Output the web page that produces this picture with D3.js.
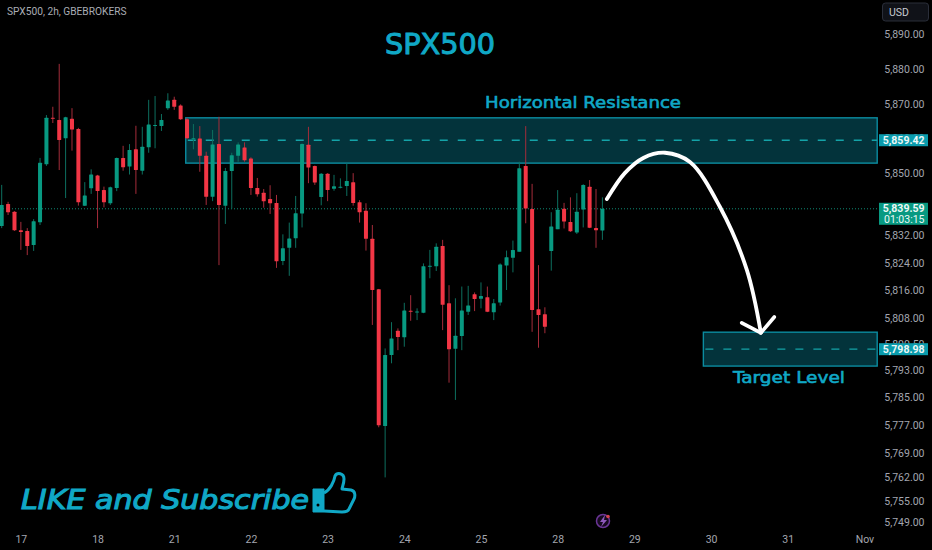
<!DOCTYPE html>
<html>
<head>
<meta charset="utf-8">
<script src="https://cdn.jsdelivr.net/npm/d3@7"></script>
<style>
    html, body { margin: 0; padding: 0; background: #000; }
    svg { display: block; }
    text { font-family: Roboto, sans-serif; }
</style>
</head>
<body>
<svg id="chart" width="932" height="550"></svg>
<script>
const opens = [5834.6,5841.0,5838.7,5833.4,5833.2,5829.1,5835.7,5852.5,5865.9,5865.3,5860.0,5865.6,5862.7,5840.5,5845.5,5849.2,5845.0,5841.2,5845.6,5854.3,5851.8,5856.8,5850.6,5857.4,5863.6,5863.5,5868.7,5871.1,5869.5,5865.5,5859.7,5859.9,5854.9,5843.1,5858.3,5840.5,5850.5,5854.9,5857.3,5854.1,5845.6,5844.2,5842.4,5841.3,5824.5,5828.3,5831.1,5838.2,5858.1,5852.0,5843.0,5849.7,5845.4,5845.7,5846.2,5847.3,5841.5,5839.0,5830.9,5816.3,5776.8,5797.3,5804.3,5802.4,5810.1,5809.6,5809.5,5822.8,5823.0,5828.8,5812.3,5799.1,5802.8,5809.8,5814.9,5813.6,5814.0,5809.7,5812.5,5823.2,5825.4,5827.2,5852.0,5839.5,5810.5,5809.1,5827.4,5833.7,5839.6,5835.8,5832.7,5839.4,5846.0,5834.0,5833.3];
const highs = [5846.5,5841.6,5838.9,5835.8,5834.0,5836.6,5854.3,5866.7,5869.1,5881.5,5866.2,5868.7,5863.0,5847.3,5851.0,5849.4,5846.0,5846.0,5854.4,5857.8,5858.3,5863.6,5863.3,5871.1,5872.2,5867.0,5873.0,5872.0,5869.8,5865.9,5864.1,5863.5,5856.1,5862.4,5866.2,5851.4,5855.8,5858.8,5858.8,5854.5,5848.5,5845.3,5846.4,5843.6,5832.2,5835.6,5843.3,5858.5,5863.3,5852.1,5849.9,5849.9,5849.4,5848.4,5852.7,5849.9,5842.1,5841.2,5834.9,5816.4,5799.2,5806.8,5805.0,5812.4,5814.6,5810.8,5823.8,5827.7,5829.6,5830.6,5817.5,5813.7,5817.1,5817.3,5815.4,5818.3,5817.1,5813.5,5823.8,5827.5,5830.4,5853.2,5863.5,5846.8,5823.3,5811.1,5838.6,5845.0,5841.3,5842.9,5844.1,5846.7,5847.9,5845.3,5842.9];
const lows = [5834.0,5837.8,5833.2,5827.7,5826.2,5827.4,5834.9,5852.0,5864.4,5850.8,5842.7,5856.4,5840.5,5840.4,5843.9,5834.0,5840.0,5840.7,5844.7,5850.6,5849.5,5843.9,5849.5,5855.8,5857.1,5862.1,5868.2,5868.2,5865.3,5859.7,5856.8,5850.3,5840.7,5841.8,5823.3,5835.2,5839.7,5853.2,5853.2,5843.6,5843.1,5839.9,5838.1,5822.5,5823.3,5820.2,5828.3,5834.2,5847.0,5846.5,5840.6,5841.8,5844.8,5845.5,5843.3,5840.5,5835.6,5827.5,5806.0,5776.4,5761.9,5794.9,5798.7,5799.7,5807.2,5807.4,5809.4,5819.5,5821.6,5804.5,5789.3,5784.3,5798.7,5808.9,5810.0,5810.8,5809.7,5807.4,5811.6,5816.1,5821.2,5827.2,5835.4,5804.0,5799.4,5803.6,5821.7,5833.7,5833.9,5832.9,5832.3,5834.2,5834.0,5828.3,5830.6];
const closes = [5840.7,5838.6,5833.4,5832.9,5828.8,5836.0,5852.9,5865.9,5865.6,5859.5,5866.1,5862.5,5841.5,5843.4,5849.5,5844.7,5841.5,5845.8,5854.3,5851.6,5856.6,5850.8,5857.5,5864.0,5863.8,5865.3,5870.9,5869.1,5865.5,5860.0,5860.0,5854.9,5843.1,5858.2,5840.7,5850.5,5855.1,5858.2,5853.6,5845.6,5843.8,5841.8,5841.2,5824.4,5828.2,5831.0,5838.3,5858.3,5851.5,5847.2,5849.7,5845.0,5846.1,5846.0,5847.6,5841.3,5838.6,5830.9,5816.1,5777.0,5797.3,5802.1,5802.5,5810.2,5809.8,5809.9,5823.0,5823.1,5828.6,5811.8,5799.0,5802.9,5810.2,5811.6,5813.5,5814.4,5809.8,5812.3,5823.5,5825.6,5827.7,5851.3,5839.7,5810.3,5808.9,5805.5,5834.5,5839.3,5835.9,5833.1,5838.7,5846.5,5834.1,5833.4,5839.59];

const priceTicks = [5890, 5880, 5870, 5860, 5850, 5832, 5824, 5816, 5808, 5800.5, 5793, 5785, 5777, 5769, 5762, 5755, 5749];
const dayLabels = ['17', '18', '21', '22', '23', '24', '25', '28', '29', '30', '31', 'Nov'];
const dayBars = [3, 15, 27, 39, 51, 63, 75, 87, 99, 111, 123, 135];

// drawn zones, prices
const zones = [
    {from: 28.8, to: 137, top: 5865.9, bottom: 5852.8, mid: 5859.42},
    {from: 109.8, to: 137, top: 5803.9, bottom: 5794.1, mid: 5798.98}
];
const lastPrice = 5839.59;
const arrowCurve = [[94.7,5842.4],[97.5,5849.9],[100.4,5854.3],[103.8,5855.8],[107.7,5853.1],[112.4,5840.1],[116.6,5821.9],[118.8,5803.7]];
const arrowHead = [[115.8,5806.6],[118.8,5803.7],[120.9,5808.3]];

const UP = '#089981', DOWN = '#f23645', UP_WICK = '#0d6f5f', DOWN_WICK = '#a52c3a', CYAN = '#10a8c6';

const svg = d3.select('#chart');
svg.append('rect').attr('width', 932).attr('height', 550).attr('fill', '#000');

const x = d3.scaleLinear().domain([0, 94]).range([1.7, 602.4]);
const y = d3.scaleLinear().domain([5890, 5749]).range([34.5, 522]);

// zones go under the candles
const zone = svg.append('g').selectAll('g').data(zones).join('g');
zone.append('rect')
    .attr('x', d => x(d.from))
    .attr('y', d => y(d.top))
    .attr('width', d => x(d.to) - x(d.from))
    .attr('height', d => y(d.bottom) - y(d.top))
    .attr('fill', '#03333b')
    .attr('stroke', '#0b8ca0')
    .attr('stroke-width', 1.4);
zone.append('line')
    .attr('x1', d => x(d.from) + 2)
    .attr('x2', d => x(d.to))
    .attr('y1', d => y(d.mid))
    .attr('y2', d => y(d.mid))
    .attr('stroke', '#14a3a8')
    .attr('stroke-width', 1.3)
    .attr('stroke-dasharray', '8 10');

svg.append('line')
    .attr('x1', 0).attr('x2', x(137))
    .attr('y1', y(lastPrice)).attr('y2', y(lastPrice))
    .attr('stroke', '#0f8a74')
    .attr('stroke-dasharray', '1 2');

const candles = svg.append('g').selectAll('g').data(d3.range(opens.length)).join('g');
candles.append('line')
    .attr('x1', i => x(i)).attr('x2', i => x(i))
    .attr('y1', i => y(highs[i])).attr('y2', i => y(lows[i]))
    .attr('stroke', i => closes[i] >= opens[i] ? UP_WICK : DOWN_WICK)
    .attr('stroke-width', 1);
candles.append('rect')
    .attr('x', i => x(i) - 2)
    .attr('width', 4)
    .attr('y', i => y(Math.max(opens[i], closes[i])))
    .attr('height', i => Math.max(1, Math.abs(y(opens[i]) - y(closes[i]))))
    .attr('rx', 0.5)
    .attr('fill', i => closes[i] >= opens[i] ? UP : DOWN);

// the hand drawn arrow
const line = d3.line().x(d => x(d[0])).y(d => y(d[1]));
svg.append('path')
    .datum(arrowCurve)
    .attr('d', d3.line().x(d => x(d[0])).y(d => y(d[1])).curve(d3.curveCatmullRom))
    .attr('fill', 'none')
    .attr('stroke', '#fff')
    .attr('stroke-width', 3.8)
    .attr('stroke-linecap', 'round');
svg.append('path')
    .datum(arrowHead)
    .attr('d', line)
    .attr('fill', 'none')
    .attr('stroke', '#fff')
    .attr('stroke-width', 3.6)
    .attr('stroke-linecap', 'round')
    .attr('stroke-linejoin', 'round');

// price axis
const axisY = svg.append('g')
    .attr('transform', 'translate(924.5,0)')
    .call(d3.axisRight(y).tickValues(priceTicks).tickSize(0).tickPadding(0).tickFormat(d3.format(',.2f')));
axisY.select('.domain').remove();
axisY.selectAll('text')
    .attr('text-anchor', 'end')
    .attr('fill', '#a3a6af')
    .style('font-size', '10.5px');

// time axis
const axisX = svg.append('g')
    .attr('transform', 'translate(0,536)')
    .call(d3.axisBottom(x).tickValues(dayBars).tickSize(0).tickPadding(0).tickFormat((d, i) => dayLabels[i]));
axisX.select('.domain').remove();
axisX.selectAll('text')
    .attr('fill', '#a3a6af')
    .style('font-size', '10.5px');

// last price and zone badges
function badge(price, h, fill, lines) {
    svg.append('rect')
        .attr('x', 879).attr('width', 49)
        .attr('y', y(price) - 6).attr('height', h)
        .attr('fill', fill);
    lines.forEach((t, i) => {
        svg.append('text')
            .attr('x', 924.5).attr('y', y(price) + 3.6 + i * 10.5)
            .attr('text-anchor', 'end')
            .attr('fill', '#eef8f7')
            .style('font-size', '10.5px')
            .style('font-weight', i ? 400 : 700)
            .text(t);
    });
}
badge(5859.42, 12, '#0a9bac', [d3.format(',.2f')(5859.42)]);
badge(lastPrice, 22, '#089981', [d3.format(',.2f')(lastPrice), '01:03:15']);
badge(5798.98, 12, '#0a9bac', [d3.format(',.2f')(5798.98)]);

// USD button
svg.append('rect')
    .attr('x', 882.5).attr('y', 3).attr('width', 46).attr('height', 18).attr('rx', 3)
    .attr('fill', '#101218').attr('stroke', '#2a2e39');
svg.append('text').attr('x', 889).attr('y', 16).attr('fill', '#c8cad0').style('font-size', '10.5px').text('USD');

// header
svg.append('text').attr('x', 7).attr('y', 15).attr('fill', '#a9acb4').style('font-size', '10.2px').text('SPX500, 2h, GBEBROKERS');

// annotation text, regular face thickened a little
function label(t, px, py, size, width, thick, italic) {
    svg.append('text')
        .attr('x', px).attr('y', py)
        .attr('fill', CYAN)
        .attr('stroke', CYAN)
        .attr('stroke-width', thick)
        .attr('textLength', width)
        .attr('lengthAdjust', 'spacingAndGlyphs')
        .style('font-family', '"DejaVu Sans", sans-serif')
        .style('font-size', size + 'px')
        .style('font-style', italic ? 'italic' : 'normal')
        .text(t);
}
label('SPX500', 385, 54, 28, 110, 1, false);
label('Horizontal Resistance', 485, 108, 16, 196, 0.6, false);
label('Target Level', 733, 383, 16, 112, 0.6, false);
label('LIKE and Subscribe', 21, 509, 27, 288, 1.1, true);

// thumbs up icon
const thumb = svg.append('g').attr('fill', 'none').attr('stroke', CYAN).attr('stroke-width', 3).attr('stroke-linejoin', 'round');
thumb.append('rect').attr('x', 313).attr('y', 489).attr('width', 11).attr('height', 23).attr('fill', CYAN).attr('stroke-width', 1);
thumb.append('circle').attr('cx', 318).attr('cy', 505).attr('r', 1.5).attr('fill', '#000').attr('stroke', 'none');
thumb.append('path').attr('d', 'M324,493 C330,490 334,482 335,476 C337,472 344,473 344,479 C344,484 342,487 342,489 L351,490 C356,491 355,497 354,499 L349,509 C348,512 345,512 342,512 L324,511');

// bolt badge at the bottom
svg.append('circle').attr('cx', 603).attr('cy', 521).attr('r', 6.5).attr('fill', '#160a1e').attr('stroke', '#6a3596').attr('stroke-width', 1.5);
svg.append('path').attr('d', 'M605,515 L600,522 L603,522 L601,527 L607,520 L604,520 Z').attr('fill', '#8f5abd');
svg.append('circle').attr('cx', 608).attr('cy', 516.5).attr('r', 1.8).attr('fill', '#d4434f');
</script>
</body>
</html>
